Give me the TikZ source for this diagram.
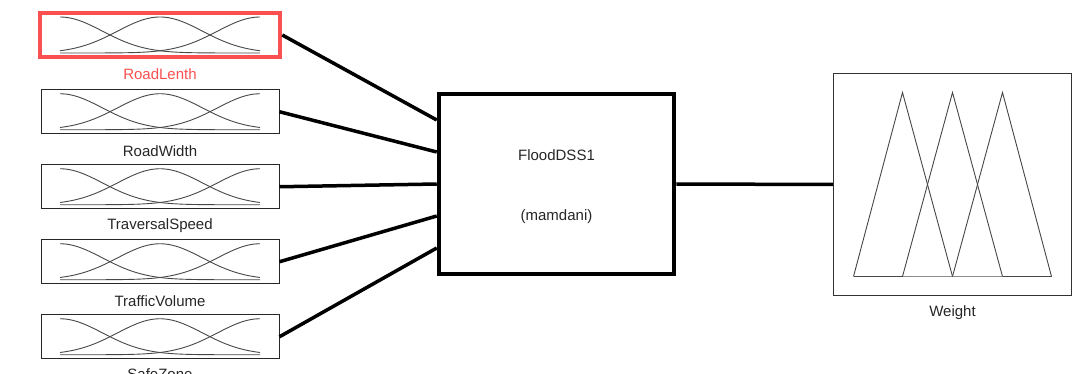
\documentclass[tikz,border=0pt]{standalone}
\usepackage{fontspec}
\setmainfont{Liberation Sans}
\usetikzlibrary{positioning}
\definecolor{hilite}{RGB}{250,80,80}
\definecolor{mfgray}{RGB}{70,70,70}

\begin{document}
\begin{tikzpicture}[
x=1pt, y=-1pt,
node distance=30pt,
mfbox/.style={rectangle, draw=black!85, line width=1pt, minimum width=238pt, minimum height=44pt, inner sep=0pt},
fisbox/.style={rectangle, draw=black, line width=4.5pt, minimum width=235pt, minimum height=180pt, inner sep=0pt},
outbox/.style={rectangle, draw=black!80, line width=1pt, minimum width=238pt, minimum height=222pt, inner sep=0pt},
lab/.style={font=\fontsize{15}{17}\selectfont, text=black!85, inner sep=0pt},
wire/.style={line width=3.5pt, black},
mf/.style={line width=0.9pt, mfgray}
]
\useasboundingbox (0,0) rectangle (1090,374);

% input membership boxes
\node[mfbox, draw=hilite, line width=4.5pt, minimum width=240pt] (in1) at (160,35) {};
\node[mfbox, below=of in1] (in2) {};
\node[mfbox, below=of in2] (in3) {};
\node[mfbox, below=of in3] (in4) {};
\node[mfbox, below=of in4] (in5) {};

\node[lab, text=hilite] (lab1) at ([yshift=-39pt]in1.center) {RoadLenth};
\node[lab] (lab2) at ([yshift=-39pt]in2.center) {RoadWidth};
\node[lab] (lab3) at ([yshift=-39pt]in3.center) {TraversalSpeed};
\node[lab] (lab4) at ([yshift=-39pt]in4.center) {TrafficVolume};
\node[lab] (lab5) at ([yshift=-37pt]in5.center) {SafeZone};

\foreach \i in {1,...,5} {
  \begin{scope}[shift={(in\i.center)}]
    \draw[mf] plot[domain=-100:100, samples=60, smooth] (\x, {18-36*exp(-2.769*((\x+100)/100)^2)});
    \draw[mf] plot[domain=-100:100, samples=60, smooth] (\x, {18-36*exp(-2.769*(\x/100)^2)});
    \draw[mf] plot[domain=-100:100, samples=60, smooth] (\x, {18-36*exp(-2.769*((\x-100)/100)^2)});
  \end{scope}
}

% inference system
\node[fisbox] (fis) at (556.5,184) {};
\node[lab] (fisname) at ([yshift=29pt]fis.center) {FloodDSS1};
\node[lab] (fistype) at ([yshift=-33pt]fis.center) {(mamdani)};

% output
\node[outbox] (out) at (952.5,184.5) {};
\node[lab] (lab6) at ([yshift=-128.5pt]out.center) {Weight};

\begin{scope}[shift={(out.center)}]
  \draw[line width=0.9pt, black!45] (-99,92) -- (99,92);
  \draw[mf] (-99,92) -- (-50,-92) -- (0,92);
  \draw[mf] (-50,92) -- (0,-92) -- (50,92);
  \draw[mf] (0,92) -- (50,-92) -- (99,92);
  \draw[mf] (-99,92) -- (-50,92);
  \draw[mf] (50,92) -- (99,92);
\end{scope}

% connectors
\foreach \i/\dy in {1/64, 2/32, 3/0, 4/-32, 5/-64}
  \draw[wire] (in\i.east) -- ([yshift=\dy pt]fis.west);
\draw[wire] (fis.east) -- (out.west);

\end{tikzpicture}
\end{document}
